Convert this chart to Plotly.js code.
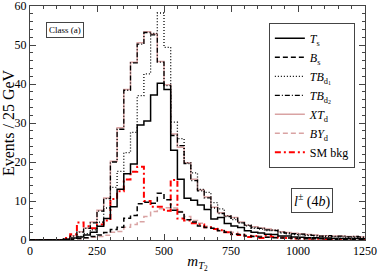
<!DOCTYPE html>
<html><head><meta charset="utf-8">
<script src="https://cdn.plot.ly/plotly-3.0.1.min.js"></script>
<style>html,body{margin:0;padding:0;background:#fff}#plot{width:378px;height:273px}</style>
</head><body><div id="plot"></div>
<script>
// bin lower edges (GeV), 25 GeV bins from 0 to 1250
const binEdges = [0,25,50,75,100,125,150,175,200,225,250,275,300,325,350,375,400,425,450,475,500,525,550,575,600,625,650,675,700,725,750,775,800,825,850,875,900,925,950,975,1000,1025,1050,1075,1100,1125,1150,1175,1200,1225];
const Ts   = [0,0,0,0,0,0.2,0.5,0.8,1.3,2.0,3.5,5.5,8.5,13.0,17.0,19.5,29.5,30.5,37.2,40.2,38.6,23.0,15.6,10.7,10.2,9.0,7.8,5.4,5.8,4.2,3.6,3.2,2.4,2.0,1.8,1.5,1.4,1.0,1.0,0.8,0.7,0.6,0.6,0.5,0.5,0.4,0.4,0.3,0.4,0.3];
const Bs   = [0,0,0,0,0,0,0.2,0.4,0.6,0.9,1.3,1.9,2.7,3.3,5.6,6.3,9.3,9.7,9.4,12.0,10.3,7.6,7.2,5.2,4.6,3.6,3.2,3.0,2.4,2.0,1.5,1.4,1.0,0.9,0.8,0.7,0.6,0.5,0.5,0.4,0.4,0.3,0.3,0.3,0.2,0.2,0.2,0.2,0.2,0.2];
const TBd1 = [0,0,0,0,0,0.1,0.4,0.9,1.6,2.6,4.6,8.2,13.5,17.6,22.4,27.6,37.0,42.6,53.0,58.2,49.4,30.2,26.0,19.8,17.2,13.0,12.2,9.6,8.0,6.2,5.2,4.4,3.8,3.0,2.8,2.4,2.6,1.8,1.6,1.4,1.3,1.1,1.0,0.9,0.9,0.8,0.8,0.7,0.7,0.6];
const TBd2 = [0,0,0,0,0,0.3,1.0,2.0,3.0,4.4,7.4,10.6,20.0,28.4,38.4,45.4,50.2,53.2,52.6,45.6,39.6,26.8,24.2,19.6,15.2,12.6,10.8,8.2,6.8,6.0,5.6,4.4,3.6,3.2,3.0,2.6,2.4,2.0,1.8,1.6,1.5,1.3,1.2,1.0,1.1,0.9,1.0,0.8,0.9,0.8];
const XTd  = [0,0,0,0,0,0.3,1.1,2.1,3.1,4.6,7.6,10.8,20.2,28.8,38.6,45.6,50.6,53.4,52.8,45.8,39.8,27.2,23.8,19.8,15.6,12.8,11.0,8.4,7.0,6.2,5.8,4.6,3.8,3.4,3.1,2.8,2.5,2.1,1.9,1.7,1.6,1.4,1.3,1.1,1.1,1.0,1.0,0.9,0.9,0.8];
const BYd  = [0,0,0,0,0,0,0.2,0.3,0.5,0.7,0.9,1.2,2.0,2.2,3.3,4.0,4.7,6.0,7.3,8.0,8.3,8.2,7.3,6.0,5.0,4.3,3.5,3.0,2.5,2.2,2.0,1.5,1.2,1.1,1.0,0.9,0.8,0.7,0.6,0.6,0.5,0.5,0.4,0.4,0.4,0.3,0.3,0.3,0.3,0.3];
const SMbkg= [0,0,0,0,0,0.5,1.5,4.5,3.5,3.0,4.0,5.0,10.5,12.5,15.5,17.5,18.8,10.0,8.5,8.5,7.5,15.4,5.5,5.0,4.3,4.0,3.3,2.8,2.5,2.0,1.5,1.3,0.8,1.0,0.5,1.2,0.8,0.6,0.5,0.4,0.4,0.3,0.3,0.3,0.2,0.2,0.2,0.2,0.2,0.2];
const xTickVals = [0,250,500,750,1000,1250];
const yTickVals = [0,10,20,30,40,50,60];

const binWidth = 25;
const xs = binEdges.concat([binEdges[binEdges.length-1]+binWidth]);
function ext(a){return a.concat([a[a.length-1]]);}

const SERIF = 'Liberation Serif, Times New Roman, serif';
const PINK = '#d9a3a3';

function tr(name, y, color, dash, width, rank){
  return {x: xs, y: ext(y), type:'scatter', mode:'lines', name: name,
    line:{shape:'hv', color: color, dash: dash, width: width}, legendrank: rank};
}
const traces = [
  tr('<i>XT</i><sub>d</sub>', XTd, PINK, 'solid', 1.5, 5),
  tr('<i>BY</i><sub>d</sub>', BYd, PINK, '5px,3px', 1.5, 6),
  tr('SM bkg', SMbkg, '#ff0000', '6px,3px,2px,3px', 2, 7),
  tr('<i>T</i><sub>s</sub>', Ts, '#000000', 'solid', 1.5, 1),
  tr('<i>B</i><sub>s</sub>', Bs, '#000000', '5px,3px', 1.5, 2),
  tr('<i>TB</i><sub>d<sub>1</sub></sub>', TBd1, '#000000', '1px,2px', 1.3, 3),
  tr('<i>TB</i><sub>d<sub>2</sub></sub>', TBd2, '#000000', '5px,2px,1px,2px', 1.3, 4)
];

const axisCommon = {showline:true, linecolor:'#444', linewidth:1, mirror:'ticks', ticks:'inside',
  ticklen:6, tickcolor:'#444', showgrid:false, zeroline:false, ticklabeloverflow:'allow',
  tickfont:{family:SERIF, size:12, color:'#000'}};

const layout = {
  width:378, height:273,
  margin:{l:30, r:13, t:6, b:33},
  paper_bgcolor:'#fff', plot_bgcolor:'#fff',
  font:{family:SERIF, color:'#000'},
  xaxis: Object.assign({}, axisCommon, {range:[0,1250], tickvals:xTickVals,
    minor:{ticks:'inside', dtick:50, ticklen:3, tickcolor:'#444'},
    title:{text:'<i>m</i><sub><i>T</i><sub>2</sub></sub>', font:{family:SERIF, size:15}, standoff:4}}),
  yaxis: Object.assign({}, axisCommon, {range:[0,60], tickvals:yTickVals,
    minor:{ticks:'inside', dtick:2, ticklen:3, tickcolor:'#444'},
    title:{text:'Events / 25 GeV', font:{family:SERIF, size:16}, standoff:2}}),
  showlegend:true,
  legend:{x:0.713, y:0.928, xanchor:'left', yanchor:'top', bgcolor:'#fff',
    bordercolor:'#444', borderwidth:1, font:{family:SERIF, size:12}, tracegroupgap:0, itemwidth:30},
  annotations:[
    {xref:'paper', yref:'paper', x:0.104, y:0.898, xanchor:'center', yanchor:'middle', text:'Class (a)', showarrow:false,
     font:{family:SERIF, size:9}, bordercolor:'#444', borderwidth:1, borderpad:2, bgcolor:'#fff'},
    {xref:'paper', yref:'paper', x:0.842, y:0.17, xanchor:'center', yanchor:'middle', text:'<i>l</i><sup>±</sup> (4<i>b</i>)', showarrow:false,
     font:{family:SERIF, size:14}, bordercolor:'#444', borderwidth:1, borderpad:2, bgcolor:'#fff'}
  ]
};
Plotly.newPlot('plot', traces, layout, {displayModeBar:false, staticPlot:true});
</script></body></html>
